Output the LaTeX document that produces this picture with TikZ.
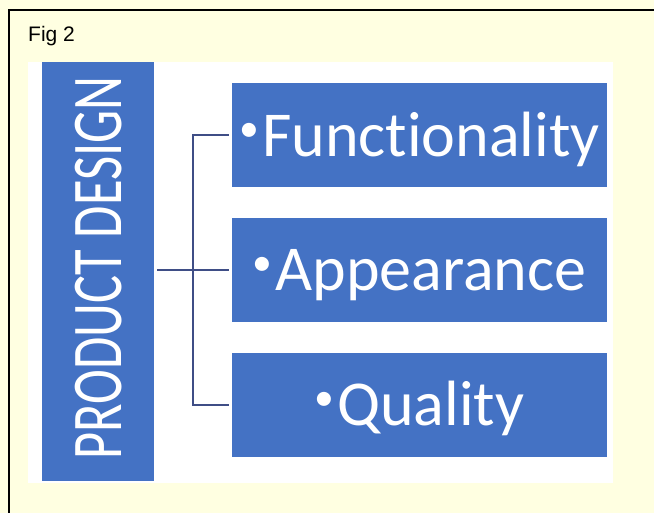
\documentclass[tikz,border=0pt]{standalone}
\usepackage{fontspec}
\setmainfont{Carlito}[Ligatures=NoCommon]
\newfontfamily\arialfont{Liberation Sans}
\definecolor{bgyellow}{HTML}{FFFFE1}
\definecolor{boxblue}{HTML}{4472C4}
\definecolor{connblue}{HTML}{3F4E86}
\newcommand{\smallbul}{\raisebox{15pt}{\scalebox{0.62}{•}}\hspace{3pt}}
\begin{document}
\begin{tikzpicture}[x=1pt,y=-1pt,
  itembox/.style={fill=boxblue, draw=none, inner sep=0pt, minimum width=375pt, minimum height=104pt,
    text=white, font=\fontsize{64}{64}\selectfont, text height=41.5pt, text depth=0pt},
  conn/.style={draw=connblue, line width=2pt}]
\useasboundingbox (0,0) rectangle (654,513);
\fill[bgyellow] (0,0) rectangle (654,513);
\draw[line width=1.5pt, black] (9,530) -- (9,10) -- (670,10);
\node[anchor=base west, inner sep=0pt, font=\arialfont\fontsize{21}{21}\selectfont] (fig) at (28,42) {Fig 2};
\fill[white] (28,62) rectangle (613,483);
\node[fill=boxblue, inner sep=0pt, minimum width=112pt, minimum height=419pt] (pd) at (98,271.5) {};
\node[rotate=90, inner sep=0pt, text=white, font=\fontsize{52.5}{52.5}\selectfont, text height=46pt, text depth=0pt] (pdt) at (98.5,268) {\scalebox{1}[1.36]{PRODUCT DESIGN}};
\node[itembox] (f) at (419.5,135.5) {\smallbul Functionality};
\node[itembox] (a) at (419.5,270) {\smallbul Appearance};
\node[itembox] (q) at (419.5,405) {\smallbul Quality};
\coordinate (j) at (193,270);
\draw[conn] ([xshift=3pt]pd.east |- a.west) -- ([xshift=-3pt]a.west);
\draw[conn] ([xshift=-3pt]f.west) -- (j |- f.west) -- (j |- q.west) -- ([xshift=-3pt]q.west);
\end{tikzpicture}
\end{document}
